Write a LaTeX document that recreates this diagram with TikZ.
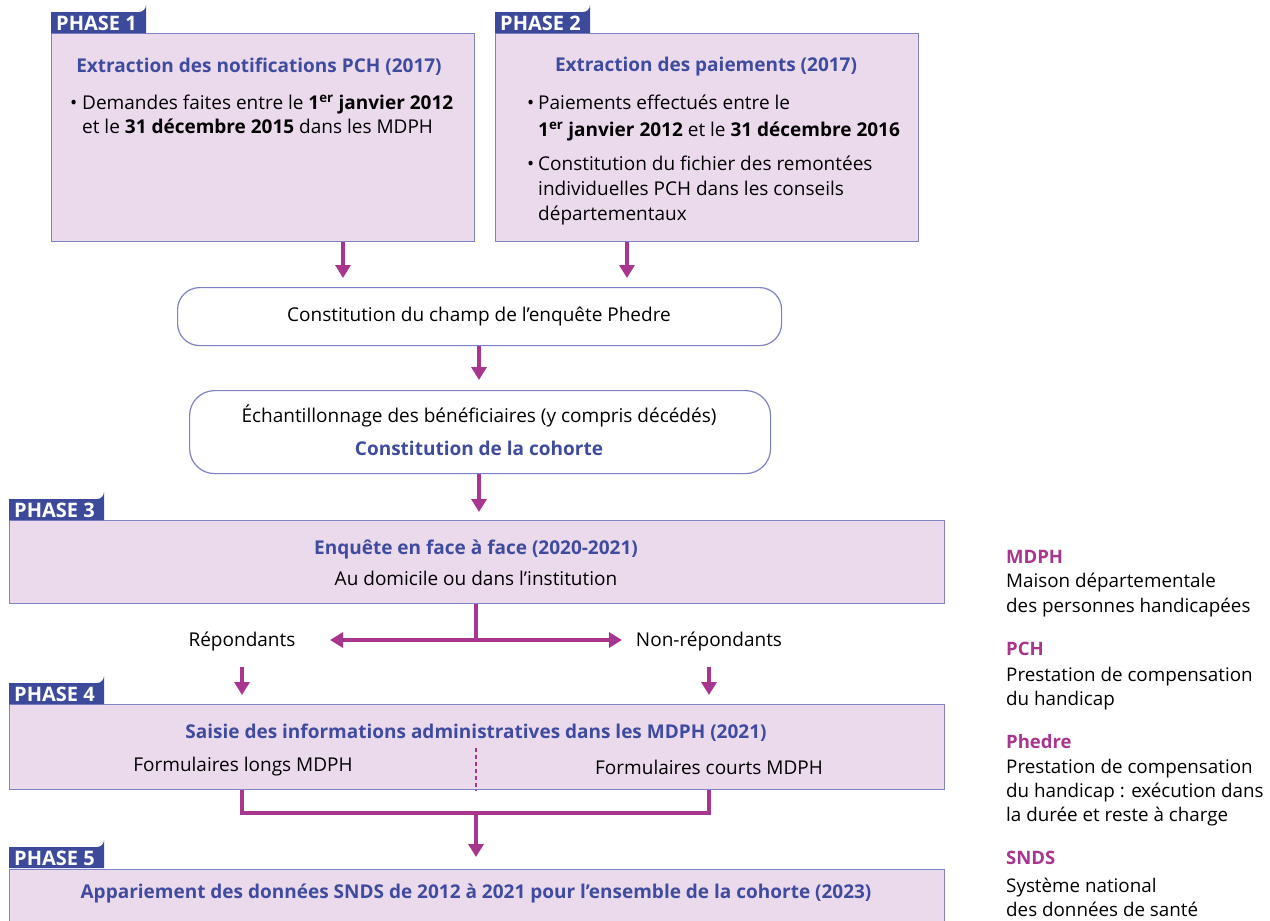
\documentclass[tikz,border=0pt]{standalone}
\usepackage{fontspec}
\setmainfont{Open Sans}
\usetikzlibrary{arrows.meta}
\definecolor{boxfill}{HTML}{EBDAEC}
\definecolor{boxline}{HTML}{7F82C3}
\definecolor{tabblue}{HTML}{3D4A9C}
\definecolor{titleblue}{HTML}{3F4B9E}
\definecolor{magenta}{HTML}{A8368E}
\tikzset{
  phasebox/.style={draw=boxline, fill=boxfill, line width=1.2pt, anchor=north west, inner sep=0pt},
  roundbox/.style={draw=boxline, fill=white, line width=1.2pt, anchor=north west, inner sep=0pt, rounded corners=22pt},
  tabtext/.style={text=white, font=\fontsize{20}{22}\selectfont\bfseries, anchor=base west, inner sep=0pt},
  title/.style={text=titleblue, font=\fontsize{19}{24}\selectfont\bfseries, inner sep=0pt},
  body/.style={font=\fontsize{19}{24}\selectfont, inner sep=0pt},
  bl/.style={body, anchor=base west},
  arr/.style={draw=magenta, line width=4pt, -{Triangle[width=15pt,length=13pt]}},
  conn/.style={draw=magenta, line width=4pt},
  legh/.style={text=magenta, font=\fontsize{18.5}{24}\selectfont\bfseries, anchor=base west, inner sep=0pt},
  legt/.style={font=\fontsize{18.8}{24}\selectfont, anchor=base west, inner sep=0pt},
}
\newcommand{\phasetab}[2]{% x, y(top)
  \fill[tabblue] (#1,#2+21) -- (#1,#2) -- (#1+88,#2) arc[start angle=90,end angle=0,radius=7] -- (#1+95,#2+21) -- cycle;
}
\begin{document}
\begin{tikzpicture}[x=1pt,y=-1pt]
\clip (0,0) rectangle (1270,921);
\fill[white] (0,0) rectangle (1270,921);

% Phase 1
\node[phasebox, minimum width=423pt, minimum height=208pt] (p1) at (51,33) {};
\phasetab{51}{12}
\node[tabtext] (t1) at (56,30) {PHASE 1};
\node[title] (p1t) at (259,67) {Extraction des notifications PCH (2017)};
\node[bl] (p1b) at (70,109) {•};
\node[bl] (p1x1) at (82,109) {Demandes faites entre le \textbf{1\textsuperscript{er} janvier 2012}};
\node[bl] (p1x2) at (82,133) {et le \textbf{31 décembre 2015} dans les MDPH};

% Phase 2
\node[phasebox, minimum width=423pt, minimum height=208pt] (p2) at (495,33) {};
\phasetab{495}{12}
\node[tabtext] (t2) at (500,30) {PHASE 2};
\node[title] (p2t) at (706,67) {Extraction des paiements (2017)};
\node[bl] (p2b1) at (527,109) {•};
\node[bl] (p2x1) at (538,109) {Paiements effectués entre le};
\node[bl] (p2x2) at (538,136) {\textbf{1\textsuperscript{er} janvier 2012} et le \textbf{31 décembre 2016}};
\node[bl] (p2b2) at (527,170) {•};
\node[bl] (p2x3) at (538,170) {Constitution du fichier des remontées};
\node[bl] (p2x4) at (538,195) {individuelles PCH dans les conseils};
\node[bl] (p2x5) at (538,220) {départementaux};

% Champ
\node[roundbox, minimum width=604pt, minimum height=58pt] (champ) at (177,287) {};
\node[body] (champt) at (479,316) {Constitution du champ de l’enquête Phedre};

% Cohorte
\node[roundbox, minimum width=581pt, minimum height=83pt, rounded corners=25pt] (coh) at (189,390) {};
\node[body] (coht1) at (479,416) {Échantillonnage des bénéficiaires (y compris décédés)};
\node[title] (coht2) at (479,448) {Constitution de la cohorte};

% Phase 3
\node[phasebox, minimum width=935pt, minimum height=83pt] (p3) at (9,520) {};
\phasetab{9}{499}
\node[tabtext] (t3) at (14,517) {PHASE 3};
\node[title] (p3t) at (476,549) {Enquête en face à face (2020-2021)};
\node[body] (p3s) at (476,578) {Au domicile ou dans l'institution};

% Répondants
\node[body] (rep) at (242,641) {Répondants};
\node[body] (nrep) at (709,641) {Non-répondants};

% Phase 4
\node[phasebox, minimum width=935pt, minimum height=85pt] (p4) at (9,704) {};
\phasetab{9}{683}
\node[tabtext] (t4) at (14,701) {PHASE 4};
\node[title] (p4t) at (476,733) {Saisie des informations administratives dans les MDPH (2021)};
\node[body] (p4l) at (243,767) {Formulaires longs MDPH};
\node[body] (p4c) at (709,767) {Formulaires courts MDPH};

% Phase 5
\node[phasebox, minimum width=935pt, minimum height=80pt] (p5) at (9,869) {};
\phasetab{9}{847}
\node[tabtext] (t5) at (14,865) {PHASE 5};
\node[title] (p5t) at (476,893) {Appariement des données SNDS de 2012 à 2021 pour l'ensemble de la cohorte (2023)};

% Connectors
\coordinate (xa) at (343,0);
\coordinate (xb) at (627,0);
\coordinate (xc) at (479,0);
\coordinate (xm) at (476,0);
\coordinate (xl) at (242,0);
\coordinate (xr) at (709,0);
\draw[arr, shorten >=9pt] (p1.south -| xa) -- (champ.north -| xa);
\draw[arr, shorten >=9pt] (p2.south -| xb) -- (champ.north -| xb);
\draw[arr, shorten >=10pt] (champ.south -| xc) -- (coh.north -| xc);
\draw[arr, shorten >=8pt] (coh.south -| xc) -- (p3.north -| xc);
\coordinate (split) at (476,640);
\draw[conn] (p3.south -| xm) -- (split);
\draw[arr] (split) -- (330,640) coordinate (la);
\draw[arr] (split) -- (622,640) coordinate (ra);
\draw[arr, shorten <=16pt, shorten >=9pt] (rep.south -| xl) -- (p4.north -| xl);
\draw[arr, shorten <=16pt, shorten >=9pt] (nrep.south -| xr) -- (p4.north -| xr);
\draw[magenta, line width=1.2pt, dash pattern=on 4pt off 3pt] (476,748) -- (p4.south -| xm);
\coordinate (join) at (476,813);
\draw[conn, line join=miter] (p4.south -| xl) |- (join) -| (p4.south -| xr);
\draw[arr, shorten >=12pt] (join) -- (p5.north -| xm);

% Legend
\node[legh] (l1) at (1006,563) {MDPH};
\node[legt] (l1a) at (1006,587) {Maison départementale};
\node[legt] (l1b) at (1006,612) {des personnes handicapées};
\node[legh] (l2) at (1006,655) {PCH};
\node[legt] (l2a) at (1006,681) {Prestation de compensation};
\node[legt] (l2b) at (1006,705) {du handicap};
\node[legh] (l3) at (1006,748) {Phedre};
\node[legt] (l3a) at (1006,773) {Prestation de compensation};
\node[legt] (l3b) at (1006,797) {du handicap : exécution dans};
\node[legt] (l3c) at (1006,821) {la durée et reste à charge};
\node[legh] (l4) at (1006,864) {SNDS};
\node[legt] (l4a) at (1006,892) {Système national};
\node[legt] (l4b) at (1006,916) {des données de santé};
\end{tikzpicture}
\end{document}
